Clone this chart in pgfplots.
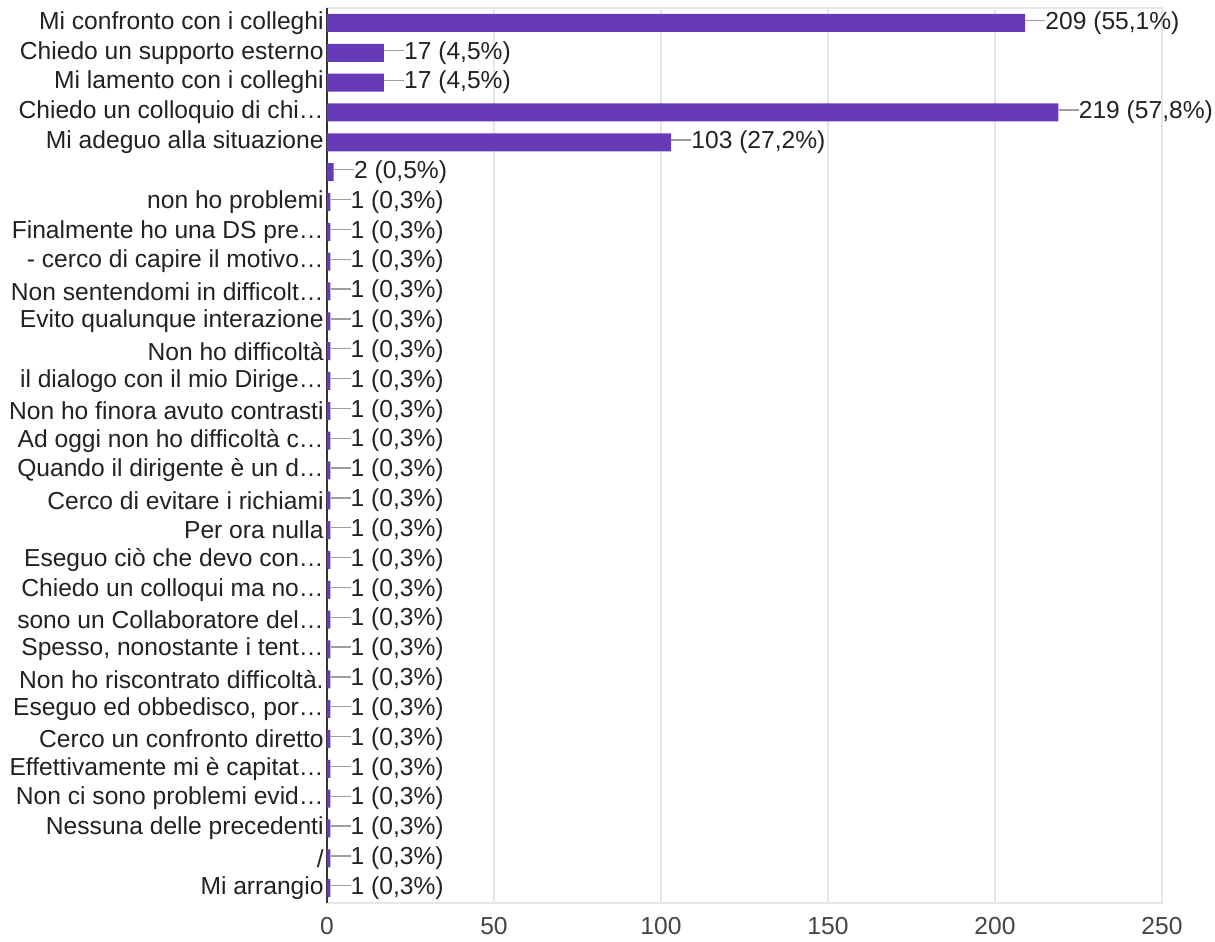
\documentclass[border=0pt]{standalone}
\usepackage{pgfplots}
\pgfplotsset{compat=1.18}
\usepackage{fontspec}
\setmainfont{Liberation Sans}
\definecolor{barpurple}{HTML}{673AB7}
\definecolor{gridgray}{HTML}{E6E6E6}
\definecolor{txt}{HTML}{222222}
\definecolor{ticktxt}{HTML}{444444}
\definecolor{conn}{HTML}{9E9E9E}
\definecolor{axisdark}{HTML}{333333}
\begin{document}
\begin{tikzpicture}
\useasboundingbox (-163.5pt,-19.5pt) rectangle (444pt,451.5pt);
\begin{axis}[
  at={(0pt,0pt)}, anchor=south west,
  scale only axis, width=417.5pt, height=447.5pt,
  xbar, bar width=9pt,
  xmin=0, xmax=250, ymin=-0.5, ymax=29.5,
  y dir=reverse,
  xtick={0,50,100,150,200,250},
  xmajorgrids, grid style={draw=gridgray, line width=0.8pt},
  major tick length=0pt,
  axis line style={draw=gridgray, line width=0.8pt},
  extra x ticks={0}, extra x tick labels={},
  extra x tick style={grid style={draw=axisdark, line width=1pt}},
  ytick={0,...,29},
  yticklabels={{Mi confronto con i colleghi},{Chiedo un supporto esterno},{Mi lamento con i colleghi},{Chiedo un colloquio di chi…},{Mi adeguo alla situazione},{},{non ho problemi},{Finalmente ho una DS pre…},{- cerco di capire il motivo…},{Non sentendomi in difficolt…},{Evito qualunque interazione},{Non ho difficoltà},{il dialogo con il mio Dirige…},{Non ho finora avuto contrasti},{Ad oggi non ho difficoltà c…},{Quando il dirigente è un d…},{Cerco di evitare i richiami},{Per ora nulla},{Eseguo ciò che devo con…},{Chiedo un colloqui ma no…},{sono un Collaboratore del…},{Spesso, nonostante i tent…},{Non ho riscontrato difficoltà.},{Eseguo ed obbedisco, por…},{Cerco un confronto diretto},{Effettivamente mi è capitat…},{Non ci sono problemi evid…},{Nessuna delle precedenti},{/},{Mi arrangio}},
  yticklabel style={font=\fontsize{12.3pt}{14pt}\selectfont, text=txt, inner xsep=1.5pt},
  xticklabel style={font=\fontsize{12.3pt}{14pt}\selectfont, text=ticktxt, yshift=-3.5pt},
  /pgf/number format/assume math mode=true,
  point meta=explicit symbolic,
  nodes near coords={\textcolor{conn}{\rule[0.33em]{10pt}{0.6pt}}\pgfplotspointmeta},
  nodes near coords align={horizontal},
  every node near coord/.append style={font=\fontsize{12.3pt}{14pt}\selectfont, text=txt, anchor=west, inner xsep=0pt, xshift=0pt},
  clip=false,
]
\addplot[fill=barpurple, draw=none] coordinates {
(209,0) [209 (55,1\%)]
(17,1) [17 (4,5\%)]
(17,2) [17 (4,5\%)]
(219,3) [219 (57,8\%)]
(103,4) [103 (27,2\%)]
(2,5) [2 (0,5\%)]
(1,6) [1 (0,3\%)]
(1,7) [1 (0,3\%)]
(1,8) [1 (0,3\%)]
(1,9) [1 (0,3\%)]
(1,10) [1 (0,3\%)]
(1,11) [1 (0,3\%)]
(1,12) [1 (0,3\%)]
(1,13) [1 (0,3\%)]
(1,14) [1 (0,3\%)]
(1,15) [1 (0,3\%)]
(1,16) [1 (0,3\%)]
(1,17) [1 (0,3\%)]
(1,18) [1 (0,3\%)]
(1,19) [1 (0,3\%)]
(1,20) [1 (0,3\%)]
(1,21) [1 (0,3\%)]
(1,22) [1 (0,3\%)]
(1,23) [1 (0,3\%)]
(1,24) [1 (0,3\%)]
(1,25) [1 (0,3\%)]
(1,26) [1 (0,3\%)]
(1,27) [1 (0,3\%)]
(1,28) [1 (0,3\%)]
(1,29) [1 (0,3\%)]
};
\end{axis}
\end{tikzpicture}
\end{document}
